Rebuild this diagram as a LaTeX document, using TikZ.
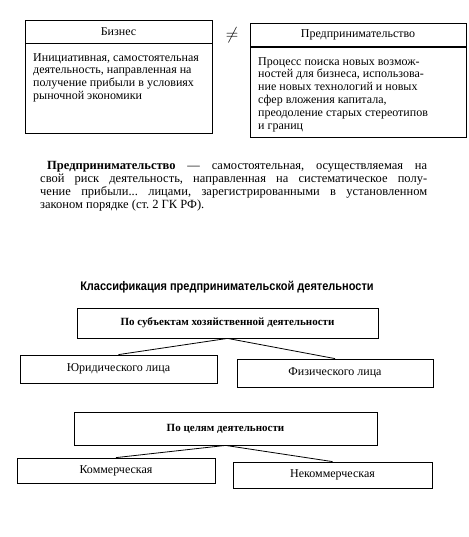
\documentclass[tikz,border=0pt]{standalone}
\usepackage{fontspec}
\setmainfont{Liberation Serif}
\setsansfont{Liberation Sans}
\usetikzlibrary{positioning}
\frenchspacing

\begin{document}
\begin{tikzpicture}[x=1pt, y=-1pt,
  head/.style={draw, line width=0.8pt, minimum width=#1, minimum height=23pt,
               inner sep=1pt, font=\fontsize{12}{13}\selectfont},
  frame/.style={draw, line width=0.8pt, minimum width=#1, minimum height=90pt, inner sep=0pt},
  bodytxt/.style={inner sep=0pt, align=left, font=\fontsize{12}{12.9}\selectfont},
  cls/.style={draw, line width=0.8pt, minimum width=#1, minimum height=30pt,
              inner sep=1pt, font=\bfseries\fontsize{11}{13}\selectfont},
  leaf/.style={draw, line width=0.8pt, minimum width=#1, minimum height=28pt,
               inner sep=1pt, font=\fontsize{12}{13}\selectfont},
  link/.style={line width=0.8pt}
]
\useasboundingbox (0,0) rectangle (468,537);

% ---- two definitions (top) ----
\node[head=187pt] (biz) at (118.5,31.5) {Бизнес};
\node[frame=187pt, anchor=north] (bizbox) at (biz.south) {};
\node[bodytxt, anchor=north west] (biztxt) at (33,53)
  {Инициативная, самостоятельная\\деятельность, направленная на\\получение прибыли в условиях\\рыночной экономики};

\node[font=\LARGE] (neq) at (232,35) {$\neq$};

\node[head=216pt] (entr) at (358,35) {Предпринимательство};
\node[frame=216pt, anchor=north] (entrbox) at (entr.south) {};
\node[bodytxt, anchor=north west] (entrtxt) at (258,57)
  {Процесс поиска новых возмож-\\ностей для бизнеса, использова-\\ние новых технологий и новых\\сфер вложения капитала,\\преодоление старых стереотипов\\и границ};

% ---- legal definition ----
\node[inner sep=0pt, anchor=north west, text width=387pt, align=justify,
      font=\fontsize{12.5}{12.9}\selectfont] (defn) at (40,161)
  {\hspace*{7pt}\textbf{Предпринимательство} --- самостоятельная, осуществляемая на\linebreak
   свой риск деятельность, направленная на систематическое полу-\linebreak
   чение прибыли... лицами, зарегистрированными в установленном\linebreak
   законом порядке (ст.~2 ГК РФ).};

% ---- classification ----
\node[font=\sffamily\bfseries\fontsize{12.5}{14}\selectfont] (title) at (227,287)
  {\scalebox{0.88}[1]{Классификация предпринимательской деятельности}};

\node[cls=301pt] (subj) at (227.5,323) {По субъектам хозяйственной деятельности};
\node[leaf=197pt] (jur) at (118.5,369) {Юридического лица};
\node[leaf=196pt] (fiz) at (335,373) {Физического лица};
\draw[link] (subj.south) -- (jur.north);
\draw[link] (subj.south) -- (fiz.north);

\node[cls=303pt, minimum height=33pt] (goal) at (225.5,428.5) {По целям деятельности};
\node[leaf=198pt, minimum height=25pt] (kom) at (116,470.5) {Коммерческая};
\node[leaf=199pt, minimum height=26pt] (nekom) at (332.5,475) {Некоммерческая};
\draw[link] (goal.south) -- (kom.north);
\draw[link] (goal.south) -- (nekom.north);

\end{tikzpicture}
\end{document}
